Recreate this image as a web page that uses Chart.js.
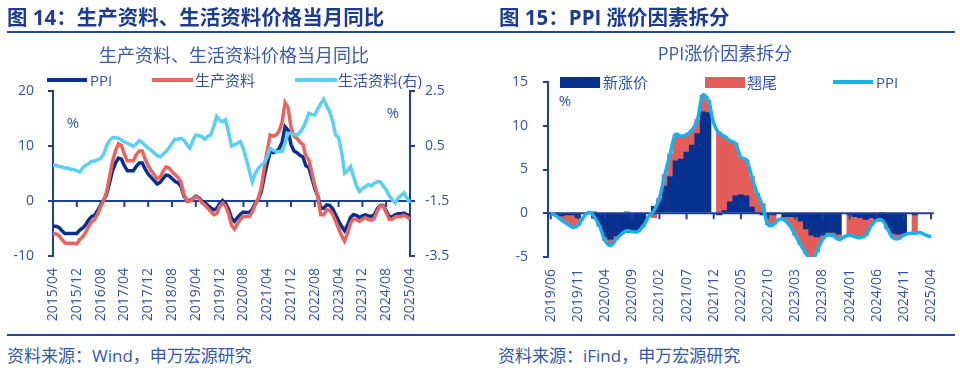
<!DOCTYPE html>
<html>
<head>
<meta charset="utf-8">
<script src="https://cdn.jsdelivr.net/npm/chart.js@4.4.1/dist/chart.umd.min.js"></script>
<style>
  body { margin: 0; width: 960px; height: 370px; background: #fff; position: relative; overflow: hidden;
         font-family: "Open Sans", "Noto Sans CJK SC", sans-serif; }
  canvas { position: absolute; top: 0; }
  .t { position: absolute; white-space: nowrap; line-height: 1; transform: translateY(-50%); }
  .head { font-weight: bold; font-size: 20.5px; color: #1c3c90; }
  .ctitle { font-size: 18px; color: #3b5aa8; transform: translate(-50%, -50%); }
  .leg { font-size: 15px; color: #3452a4; }
  .pct { font-size: 15px; color: #3452a4; transform: translate(-50%, -50%); }
  .foot { font-size: 17px; color: #3557a7; }
  .rule { position: absolute; left: 7px; width: 948px; height: 2px; background: #23489a; }
  .mark { position: absolute; }
</style>
</head>
<body>
<canvas id="leftChart" width="480" height="335" style="left:0"></canvas>
<canvas id="rightChart" width="480" height="335" style="left:480px"></canvas>

<div class="t head" style="left:7px;top:17px">图 14：生产资料、生活资料价格当月同比</div>
<div class="t head" style="left:499px;top:17px">图 15：PPI 涨价因素拆分</div>
<div class="rule" style="top:31px"></div>

<div class="t ctitle" style="left:234px;top:55px">生产资料、生活资料价格当月同比</div>
<div class="t ctitle" style="left:725px;top:53px">PPI涨价因素拆分</div>

<!-- left legend -->
<div class="mark" style="left:47px;top:78px;width:40px;height:4px;background:#0a2f8c"></div>
<div class="t leg" style="left:90px;top:80px">PPI</div>
<div class="mark" style="left:152px;top:78px;width:41px;height:4px;background:#e86461"></div>
<div class="t leg" style="left:195px;top:80px">生产资料</div>
<div class="mark" style="left:295px;top:78px;width:42px;height:4px;background:#5ccff5"></div>
<div class="t leg" style="left:338px;top:80px">生活资料(右)</div>

<!-- right legend -->
<div class="mark" style="left:560px;top:77px;width:40px;height:11px;background:#06318f"></div>
<div class="t leg" style="left:603px;top:82px">新涨价</div>
<div class="mark" style="left:705px;top:77px;width:40px;height:11px;background:#e35d5b"></div>
<div class="t leg" style="left:747px;top:82px">翘尾</div>
<div class="mark" style="left:833px;top:80px;width:40px;height:4px;background:#19b1ea"></div>
<div class="t leg" style="left:876px;top:82px">PPI</div>

<div class="t pct" style="left:73px;top:122px">%</div>
<div class="t pct" style="left:393px;top:112px">%</div>
<div class="t pct" style="left:565px;top:100px">%</div>

<div class="rule" style="top:334px"></div>
<div class="t foot" style="left:7px;top:355px">资料来源：Wind，申万宏源研究</div>
<div class="t foot" style="left:498px;top:355px">资料来源：iFind，申万宏源研究</div>

<script>
const NAVY = '#0a2f8c';
const RED = '#e86461';
const SKY = '#5ccff5';
const AXIS = '#1f3f99';
const BAR_NEW = '#06318f';
const BAR_CARRY = '#e35d5b';
const CYAN = '#19b1ea';

function monthLabels(startYear, startMonth, count) {
  const out = [];
  for (let k = 0; k < count; k++) {
    const m = startMonth - 1 + k;
    out.push(`${startYear + Math.floor(m / 12)}/${String(m % 12 + 1).padStart(2, '0')}`);
  }
  return out;
}

// ---- left chart: 2015/04 - 2025/04, monthly ----
const leftMonths = monthLabels(2015, 4, 121);

const ppiLeft = [
  -4.6, -4.6, -4.8, -5.4, -5.9, -5.9, -5.9, -5.9, -5.9,
  -5.3, -4.9, -4.3, -3.4, -2.8, -2.6, -1.7, -0.8, 0.1, 1.2, 3.3, 5.5,
  6.9, 7.8, 7.6, 6.4, 5.5, 5.5, 5.5, 6.3, 6.9, 6.9, 5.8, 4.9,
  4.3, 3.7, 3.1, 3.4, 4.1, 4.7, 4.6, 4.1, 3.6, 3.3, 2.7, 0.9,
  0.1, 0.1, 0.4, 0.9, 0.6, 0.0, -0.3, -0.8, -1.2, -1.6, -1.4, -0.5,
  0.1, -0.4, -1.5, -3.1, -3.7, -3.0, -2.4, -2.0, -2.1, -2.1, -1.5, -0.4,
  0.3, 1.7, 4.4, 6.8, 9.0, 8.8, 9.0, 9.5, 10.7, 13.5, 12.9, 10.3,
  9.1, 8.8, 8.3, 8.0, 6.4, 6.1, 4.2, 2.3, 0.9, -1.3, -1.3, -0.7,
  -0.8, -1.4, -2.5, -3.6, -4.6, -5.4, -4.4, -3.0, -2.5, -2.6, -3.0, -2.7,
  -2.5, -2.7, -2.8, -2.5, -1.4, -0.8, -0.8, -1.8, -2.8, -2.9, -2.5, -2.3,
  -2.3, -2.2, -2.5, -2.7
];

const producerGoods = [
  -5.9, -6.0, -6.3, -7.0, -7.6, -7.7, -7.7, -7.7, -7.8,
  -7.0, -6.5, -5.7, -4.6, -3.7, -3.4, -2.3, -1.1, 0.1, 1.6, 4.4, 7.2,
  9.1, 10.4, 10.1, 8.5, 7.3, 7.3, 7.3, 8.4, 9.1, 9.1, 7.6, 6.4,
  5.5, 4.8, 4.0, 4.3, 5.4, 6.2, 6.0, 5.3, 4.8, 4.3, 3.5, 1.2,
  -0.1, 0.0, 0.3, 0.8, 0.5, -0.3, -0.7, -1.3, -1.9, -2.5, -2.3, -1.0,
  -0.4, -0.9, -2.3, -4.4, -5.1, -4.1, -3.3, -2.8, -2.8, -2.8, -2.0, -0.6,
  0.5, 2.4, 5.9, 9.1, 12.0, 11.8, 12.0, 12.7, 14.3, 17.9, 17.0, 13.4,
  11.8, 11.4, 10.7, 10.3, 8.1, 7.5, 5.2, 2.8, 0.9, -2.5, -2.5, -1.6,
  -1.7, -2.4, -3.7, -5.0, -6.3, -7.3, -5.9, -4.0, -3.3, -3.4, -3.7, -3.3,
  -3.0, -3.4, -3.5, -3.1, -1.8, -0.9, -0.9, -2.1, -3.3, -3.3, -2.9, -2.8,
  -2.8, -2.6, -2.9, -3.3
];

// right axis
const consumerGoods = [
  -0.2, -0.2, -0.25, -0.25, -0.3, -0.3, -0.35, -0.35, -0.4,
  -0.45, -0.3, -0.2, -0.15, -0.05, -0.05, 0.0, 0.05, 0.2, 0.5, 0.7, 0.8,
  0.8, 0.78, 0.72, 0.65, 0.6, 0.55, 0.48, 0.58, 0.7, 0.62, 0.52, 0.42,
  0.35, 0.25, 0.15, 0.11, 0.2, 0.3, 0.42, 0.6, 0.75, 0.75, 0.78, 0.72,
  0.55, 0.42, 0.7, 0.9, 0.88, 0.84, 0.75, 0.85, 0.9, 1.2, 1.57, 1.45,
  1.38, 1.45, 1.0, 0.5, 0.55, 0.6, 0.66, 0.4, 0.0, -0.4, -0.8, -0.5,
  -0.31, -0.2, -0.1, 0.1, 0.42, 0.35, 0.3, 0.3, 0.3, 0.6, 0.96, 0.95,
  0.92, 0.9, 1.0, 1.15, 1.4, 1.69, 1.65, 1.63, 1.85, 2.05, 2.2, 1.95,
  1.75, 1.4, 0.9, 0.8, 0.3, -0.49, -0.4, -0.25, -0.6, -0.95, -1.16, -1.05,
  -0.98, -0.9, -0.95, -0.85, -0.8, -0.8, -0.95, -1.1, -1.3, -1.45, -1.57, -1.4,
  -1.3, -1.2, -1.4, -1.57
];

// ---- right chart: 2019/06 - 2025/04, monthly ----
const rightMonths = monthLabels(2019, 6, 71);

const newPrice = [
  -0.1, -0.2, -0.3, -0.2, -0.2, -0.5, null,
  0.0, -0.6, -1.4, -2.7, -3.0, -2.6, -2.3, -2.2, -2.1, -2.0, -1.3, null,
  0.8, 1.4, 3.1, 4.2, 6.0, 6.2, 7.0, 7.8, 9.1, 11.6, 11.5, null,
  -0.2, 0.3, 1.3, 2.0, 2.1, 2.0, 0.7, 0.1, -0.2, -0.1, -0.2, null,
  -0.4, -0.4, -0.4, -0.9, -1.8, -2.5, -2.7, -2.5, -2.2, -2.2, -2.4, null,
  -0.2, -0.4, -0.5, -0.7, -0.5, -0.7, -0.9, -1.7, -2.3, -2.4, -2.3, null,
  -0.2, null, null, null
];

const carryOver = [
  0.1, -0.1, -0.5, -1.0, -1.4, -0.9, null,
  0.1, 0.2, -0.1, -0.4, -0.7, -0.4, -0.1, 0.2, 0.0, -0.1, -0.2, null,
  -0.5, 0.3, 1.3, 2.6, 3.0, 2.6, 2.0, 1.7, 1.6, 1.9, 1.4, null,
  9.3, 8.5, 7.0, 6.0, 4.3, 4.1, 3.5, 2.2, 1.1, -1.2, -1.1, null,
  -0.4, -1.0, -2.1, -2.7, -2.8, -2.9, -1.7, -0.5, -0.3, -0.4, -0.6, null,
  -2.3, -2.3, -2.3, -1.8, -0.9, -0.1, 0.1, -0.1, -0.5, -0.5, -0.2, null,
  -2.1, null, null, null
];

const ppiRight = [
  0.0, -0.3, -0.8, -1.2, -1.6, -1.4, -0.5,
  0.1, -0.4, -1.5, -3.1, -3.7, -3.0, -2.4, -2.0, -2.1, -2.1, -1.5, -0.4,
  0.3, 1.7, 4.4, 6.8, 9.0, 8.8, 9.0, 9.5, 10.7, 13.5, 12.9, 10.3,
  9.1, 8.8, 8.3, 8.0, 6.4, 6.1, 4.2, 2.3, 0.9, -1.3, -1.3, -0.7,
  -0.8, -1.4, -2.5, -3.6, -4.6, -5.4, -4.4, -3.0, -2.5, -2.6, -3.0, -2.7,
  -2.5, -2.7, -2.8, -2.5, -1.4, -0.8, -0.8, -1.8, -2.8, -2.9, -2.5, -2.3,
  -2.3, -2.2, -2.5, -2.7
];

Chart.defaults.font.family = '"Open Sans", "Noto Sans CJK SC", sans-serif';
Chart.defaults.font.size = 14;
Chart.defaults.color = '#3452a4';

// zero line with tick marks every N categories
function drawZero(chart, opts) {
  const { ctx, chartArea, scales: { x, y } } = chart;
  const y0 = y.getPixelForValue(0);
  ctx.save();
  ctx.strokeStyle = AXIS;
  ctx.lineWidth = 2;
  ctx.beginPath();
  ctx.moveTo(chartArea.left, y0);
  ctx.lineTo(chartArea.right, y0);
  for (let i = 0; i < chart.data.labels.length; i += opts.every) {
    const px = x.getPixelForValue(i);
    ctx.moveTo(px, y0);
    ctx.lineTo(px, y0 + 6);
  }
  ctx.stroke();
  ctx.restore();
}

const zeroAxis = {
  id: 'zeroAxis',
  beforeDatasetsDraw(chart, args, opts) {
    if (opts.afterIndex < 0) drawZero(chart, opts);
  },
  afterDatasetDraw(chart, args, opts) {
    if (args.index === opts.afterIndex) drawZero(chart, opts);
  }
};

const sideAxis = (extra) => Object.assign({
  grid: { drawOnChartArea: false, tickLength: 5, color: AXIS, lineWidth: 2 },
  border: { color: AXIS, width: 2 }
}, extra);

const bottomAxis = (labels, every) => ({
  offset: labels === rightMonths,
  grid: { display: false, drawTicks: false },
  border: { display: false },
  ticks: {
    autoSkip: false, minRotation: 90, maxRotation: 90, padding: 12,
    font: { size: 14 },
    callback: (v, i) => (i % every === 0 ? labels[i] : null)
  },
  afterFit: (s) => { s.height = 74; }
});

new Chart(document.getElementById('leftChart'), {
  type: 'line',
  data: {
    labels: leftMonths,
    datasets: [
      { label: 'PPI', data: ppiLeft, borderColor: NAVY, backgroundColor: NAVY, yAxisID: 'y', order: 3 },
      { label: '生产资料', data: producerGoods, borderColor: RED, backgroundColor: RED, yAxisID: 'y', order: 2 },
      { label: '生活资料(右)', data: consumerGoods, borderColor: SKY, backgroundColor: SKY, yAxisID: 'y1', order: 1 }
    ]
  },
  options: {
    responsive: false,
    animation: false,
    layout: { padding: { top: 91, bottom: 5, left: 0, right: 0 } },
    elements: { point: { radius: 0 }, line: { borderWidth: 3.5, tension: 0 } },
    plugins: {
      legend: { display: false },
      tooltip: { enabled: false },
      zeroAxis: { every: 8, afterIndex: -1 }
    },
    scales: {
      x: bottomAxis(leftMonths, 8),
      y: sideAxis({
        min: -10, max: 20,
        ticks: { stepSize: 10, padding: 14 },
        afterFit: (s) => { s.width = 53; }
      }),
      y1: sideAxis({
        position: 'right', min: -3.5, max: 2.5,
        ticks: { stepSize: 2, padding: 10, callback: (v) => v.toFixed(1) },
        afterFit: (s) => { s.width = 70; }
      })
    }
  },
  plugins: [zeroAxis]
});

new Chart(document.getElementById('rightChart'), {
  type: 'bar',
  data: {
    labels: rightMonths,
    datasets: [
      { label: '新涨价', data: newPrice, backgroundColor: BAR_NEW, stack: 'parts', order: 1 },
      { label: '翘尾', data: carryOver, backgroundColor: BAR_CARRY, stack: 'parts', order: 2 },
      { type: 'line', label: 'PPI', data: ppiRight, borderColor: CYAN, backgroundColor: CYAN,
        borderWidth: 3.5, pointRadius: 0, tension: 0.4, stack: 'line', order: 0 }
    ]
  },
  options: {
    responsive: false,
    animation: false,
    layout: { padding: { top: 82, bottom: 4, left: 0, right: 22 } },
    datasets: { bar: { barPercentage: 1, categoryPercentage: 1, borderWidth: 0 } },
    plugins: {
      legend: { display: false },
      tooltip: { enabled: false },
      zeroAxis: { every: 5, afterIndex: 0 }
    },
    scales: {
      x: Object.assign(bottomAxis(rightMonths, 5), { stacked: true }),
      y: sideAxis({
        stacked: true, min: -5, max: 15,
        ticks: { stepSize: 5, padding: 15 },
        afterFit: (s) => { s.width = 68; }
      })
    }
  },
  plugins: [zeroAxis]
});
</script>
</body>
</html>
